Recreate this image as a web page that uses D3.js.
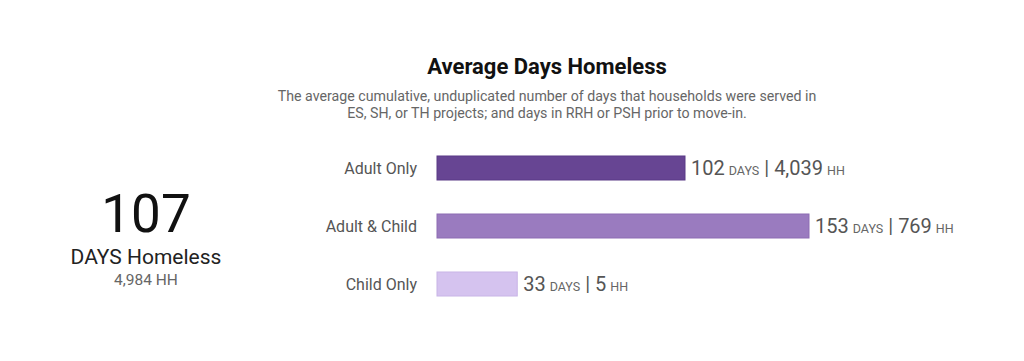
<!DOCTYPE html>
<html>
<head>
<meta charset="utf-8">
<script src="https://cdn.jsdelivr.net/npm/d3@7"></script>
<style>
  body { margin: 0; background: #fff; font-family: Roboto, "Noto Sans", sans-serif; }
  svg text { font-family: Roboto, "Noto Sans", sans-serif; }
</style>
</head>
<body>
<div id="container"></div>
<script>
const categories = ["Adult Only", "Adult & Child", "Child Only"];
const days = [102, 153, 33];
const households = ["4,039", "769", "5"];
const barColors = ["#674593", "#9a7bbf", "#d5c3ef"];
const barStrokes = ["#5a3a86", "#8d6db3", "#c8b4e6"];
const totalDays = "107";
const totalHH = "4,984";

document.addEventListener("DOMContentLoaded", () => {
  makeChart();
});

function makeChart(){
  const w = 1024;
  const h = 361;

  const svg = d3.select("#container")
                .append("svg")
                .attr("width", w)
                .attr("height", h);

  // headline number on the left
  svg.append("text")
     .attr("x", 146)
     .attr("y", 232)
     .attr("text-anchor", "middle")
     .attr("font-size", 53)
     .attr("fill", "#111")
     .text(totalDays);

  svg.append("text")
     .attr("x", 146)
     .attr("y", 264)
     .attr("text-anchor", "middle")
     .attr("font-size", 21)
     .attr("fill", "#222")
     .text("DAYS Homeless");

  svg.append("text")
     .attr("x", 146)
     .attr("y", 285)
     .attr("text-anchor", "middle")
     .attr("font-size", 15.5)
     .attr("fill", "#666")
     .text(totalHH + " HH");

  // title and subtitle
  svg.append("text")
     .attr("x", 547)
     .attr("y", 74)
     .attr("text-anchor", "middle")
     .attr("font-size", 22)
     .attr("font-weight", "bold")
     .attr("fill", "#111")
     .text("Average Days Homeless");

  const sub = svg.append("text")
                 .attr("text-anchor", "middle")
                 .attr("font-size", 14.2)
                 .attr("fill", "#666");
  sub.append("tspan").attr("x", 547).attr("y", 101)
     .text("The average cumulative, unduplicated number of days that households were served in");
  sub.append("tspan").attr("x", 547).attr("y", 118)
     .text("ES, SH, or TH projects; and days in RRH or PSH prior to move-in.");

  const xScale = d3.scaleLinear()
                   .domain([0, d3.max(days)])
                   .range([437, 809]);

  const yScale = d3.scaleBand()
                   .domain(categories)
                   .range([139, 313])
                   .paddingInner(0.5862)
                   .paddingOuter(0.2931);

  const rows = categories.map((c, i) => ({cat: c, days: days[i], hh: households[i], i: i}));

  svg.selectAll("rect.bar")
     .data(rows)
     .enter()
     .append("rect")
     .attr("class", "bar")
     .attr("x", xScale(0))
     .attr("y", (d) => yScale(d.cat))
     .attr("width", (d) => xScale(d.days) - xScale(0))
     .attr("height", yScale.bandwidth())
     .attr("fill", (d) => barColors[d.i])
     .attr("stroke", (d) => barStrokes[d.i])
     .attr("stroke-width", 1);

  const yAxis = d3.axisLeft(yScale).tickSize(0).tickPadding(20);
  const gy = svg.append("g")
                .attr("id", "y-axis")
                .attr("transform", "translate(" + xScale(0) + ",0)")
                .call(yAxis);
  gy.select(".domain").remove();
  gy.selectAll("text")
    .attr("font-size", 16)
    .attr("fill", "#555")
    .attr("dy", "0.35em");

  const lbl = svg.selectAll("text.val")
                 .data(rows)
                 .enter()
                 .append("text")
                 .attr("class", "val")
                 .attr("x", (d) => xScale(d.days) + 6)
                 .attr("y", (d) => yScale(d.cat) + yScale.bandwidth() / 2 + 7)
                 .attr("fill", "#555");
  lbl.append("tspan").attr("font-size", 20).text((d) => d.days);
  lbl.append("tspan").attr("font-size", 12.5).attr("dx", 4).attr("fill", "#666").text("DAYS");
  lbl.append("tspan").attr("font-size", 20).attr("dx", 5).text("|");
  lbl.append("tspan").attr("font-size", 20).attr("dx", 5).text((d) => d.hh);
  lbl.append("tspan").attr("font-size", 12.5).attr("dx", 4).attr("fill", "#666").text("HH");
}
</script>
</body>
</html>
